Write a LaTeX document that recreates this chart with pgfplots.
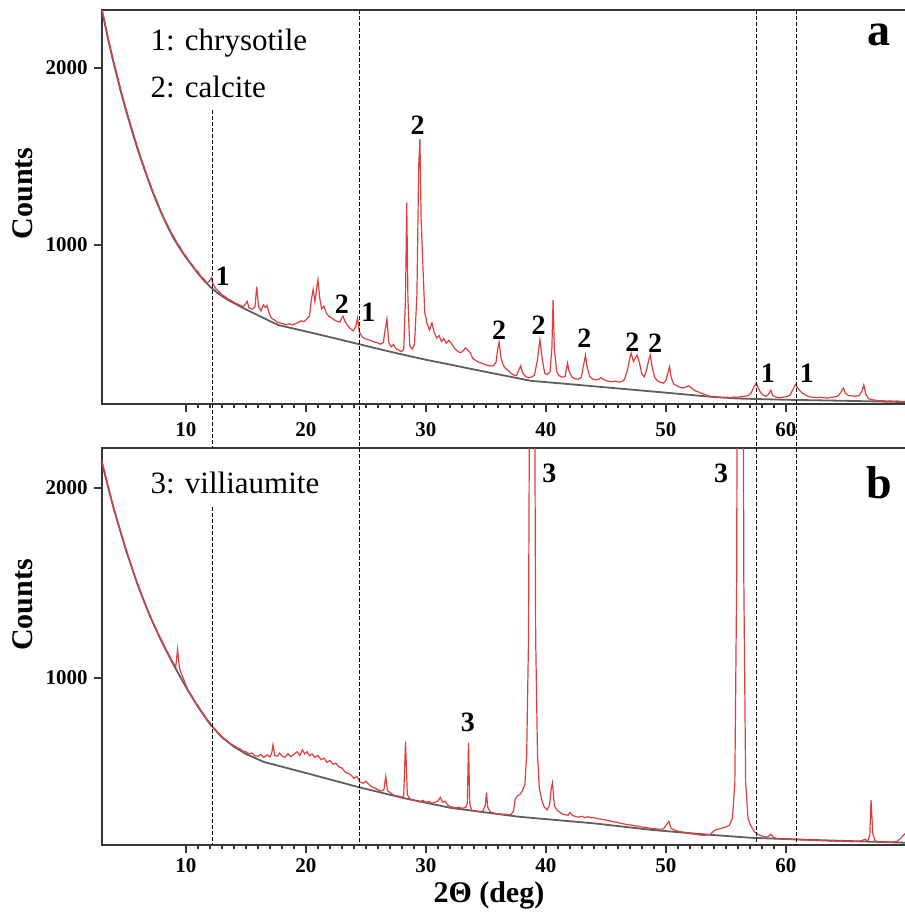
\documentclass[border=0pt]{standalone}
\usepackage{pgfplots}
\pgfplotsset{compat=1.18}
\usepackage{fontspec}
\setmainfont{Liberation Serif}

\definecolor{xrdred}{RGB}{226,62,62}
\definecolor{bggray}{RGB}{95,95,95}
\definecolor{frame}{RGB}{55,55,55}

\pgfplotsset{
  xrd/.style={
    scale only axis, width=402.2pt,
    xmin=3, xmax=70.05,
    xtick={10,20,...,60}, minor x tick num=9,
    ytick={1000,2000},
    xtick pos=left, ytick pos=left,
    tick align=outside,
    major tick length=4pt, minor tick length=2pt,
    axis line style={frame, line width=1.3pt},
    every tick/.style={frame, line width=0.7pt},
    tick label style={font=\fontsize{10.5}{12}\selectfont\bfseries},
    yticklabel style={anchor=east, inner sep=0pt, xshift=-3pt},
    /pgf/number format/assume math mode=true,
    /pgf/number format/set thousands separator={},
    label style={font=\fontsize{15}{18}\selectfont\bfseries},
    ylabel={Counts},
  },
  red trace/.style={xrdred, line width=0.6pt},
  bg trace/.style={bggray, line width=0.9pt},
}
\tikzset{
  pk/.style={font=\fontsize{14}{16}\selectfont\bfseries, inner sep=0pt},
  phase/.style={font=\fontsize{15.5}{18}\selectfont, anchor=west, inner sep=0pt},
  panel/.style={font=\fontsize{23}{26}\selectfont\bfseries, inner sep=0pt},
  refline/.style={black, line width=0.6pt, dash pattern=on 2pt off 1pt},
}

\begin{document}
\begin{tikzpicture}
\useasboundingbox (-51pt,5pt) rectangle (401.5pt,-453.5pt);

% ---------- panel a ----------
\begin{axis}[xrd, name=pa, at={(0,0)}, anchor=north west,
  height=197pt, ymin=102, ymax=2328,
  xticklabel style={anchor=north, inner sep=0pt, yshift=-5.3pt},
  ylabel style={at={(axis description cs:-0.0984,0.535)}, anchor=center}]
\addplot[bg trace] coordinates {
(3,2325) (3.5,2165) (4,2020) (4.5,1885) (5,1760) (5.5,1645) (6,1535) (6.5,1435)
(7,1340) (7.5,1252) (8,1172) (8.5,1100) (9,1035) (9.5,980) (10,930) (10.5,885)
(11,840) (11.5,800) (12,765) (12.5,736) (13,712) (13.5,690) (14,672) (14.5,654)
(15,636) (15.5,620) (16,603) (16.5,587) (17,570) (17.7,548) (20,512) (22,480)
(24.3,442) (26,414) (28,382) (30,352) (32,325) (34,297) (36,270) (38.75,233)
(42,214) (46,190) (50,166) (53.75,143) (56,133) (60,126) (65,120) (70,113)
};
\addplot[red trace] coordinates {
(3.0,2330) (3.25,2255) (3.5,2175) (3.75,2100) (4.0,2030) (4.25,1965) (4.5,1895)
(4.75,1830) (5.0,1770) (5.25,1712) (5.5,1655) (5.75,1598) (6.0,1545) (6.25,1492)
(6.5,1445) (6.75,1392) (7.0,1348) (7.25,1300) (7.5,1262) (7.75,1218) (8.0,1178)
(8.25,1140) (8.5,1110) (8.75,1072) (9.0,1045) (9.25,1012) (9.5,990) (9.75,955)
(10.0,938) (10.25,908) (10.5,890) (10.75,862) (11.0,850) (11.25,822) (11.5,808)
(11.75,785) (11.95,795) (12.1,815) (12.25,782) (12.5,752) (12.75,738) (13.0,718)
(13.25,710) (13.5,695) (13.75,688) (14.0,676) (14.25,668) (14.5,660) (14.75,652)
(14.95,665) (15.1,682) (15.25,645) (15.5,638) (15.75,650) (15.9,765) (16.05,652)
(16.25,628) (16.45,662) (16.6,648) (16.75,658) (16.9,622) (17.1,588) (17.35,578)
(17.6,565) (17.85,560) (18.1,555) (18.35,550) (18.6,555) (18.85,548) (19.1,556)
(19.35,562) (19.6,572) (19.85,568) (20.1,585) (20.3,600) (20.45,690) (20.6,750)
(20.75,680) (20.9,760) (21.0,805) (21.15,700) (21.3,640) (21.5,655) (21.7,615)
(21.9,598) (22.1,590) (22.35,578) (22.6,568) (22.85,565) (23.0,590) (23.1,598)
(23.25,570) (23.45,548) (23.7,528) (23.95,515) (24.15,540) (24.3,588) (24.45,510)
(24.7,480) (24.95,470) (25.2,466) (25.45,460) (25.7,452) (25.95,448) (26.2,440)
(26.45,450) (26.6,520) (26.75,582) (26.9,450) (27.1,425) (27.3,438) (27.5,415)
(27.7,408) (27.95,398) (28.15,410) (28.3,700) (28.4,1240) (28.5,700) (28.65,430)
(28.85,412) (29.05,440) (29.25,720) (29.4,1450) (29.5,1600) (29.6,1150) (29.75,880)
(29.9,620) (30.1,555) (30.3,520) (30.5,560) (30.7,505) (30.9,475) (31.1,488)
(31.3,455) (31.5,472) (31.7,445) (31.9,462) (32.1,446) (32.35,420) (32.6,402)
(32.85,392) (33.05,398) (33.3,420) (33.5,405) (33.7,392) (33.9,360) (34.15,348)
(34.4,338) (34.65,332) (34.9,325) (35.15,320) (35.4,316) (35.65,318) (35.85,340)
(36.0,420) (36.1,452) (36.25,365) (36.45,320) (36.65,302) (36.85,292) (37.05,278)
(37.3,266) (37.55,262) (37.75,295) (37.9,318) (38.05,280) (38.3,258) (38.55,250)
(38.8,254) (39.05,265) (39.3,355) (39.5,466) (39.7,355) (39.9,276) (40.1,268)
(40.35,284) (40.5,420) (40.6,690) (40.7,420) (40.9,285) (41.1,262) (41.35,254)
(41.6,256) (41.7,296) (41.8,333) (41.95,282) (42.2,252) (42.45,244) (42.7,242)
(42.95,252) (43.15,325) (43.3,378) (43.45,305) (43.65,258) (43.9,242) (44.15,238)
(44.4,242) (44.6,252) (44.8,240) (45.05,234) (45.3,230) (45.55,228) (45.8,232)
(46.05,226) (46.3,228) (46.55,240) (46.8,295) (47.0,365) (47.1,390) (47.3,342)
(47.6,378) (47.8,335) (48.0,272) (48.2,255) (48.4,295) (48.55,345) (48.7,378)
(48.85,315) (49.05,255) (49.3,232) (49.55,225) (49.8,220) (50.0,235) (50.15,272)
(50.3,312) (50.45,250) (50.65,215) (50.9,205) (51.15,198) (51.4,192) (51.65,198)
(51.9,205) (52.15,192) (52.4,178) (52.7,170) (53.0,162) (53.3,154) (53.6,146)
(53.9,141) (54.2,138) (54.5,141) (54.8,137) (55.1,140) (55.4,138) (55.7,142)
(56.0,140) (56.3,143) (56.6,146) (56.9,150) (57.15,170) (57.35,200) (57.55,222)
(57.7,192) (57.9,166) (58.1,152) (58.35,146) (58.55,156) (58.75,180) (58.9,152)
(59.15,141) (59.45,138) (59.75,140) (60.05,143) (60.35,152) (60.6,185) (60.8,212)
(60.95,198) (61.15,178) (61.4,162) (61.7,150) (62.0,142) (62.3,140) (62.6,138)
(62.9,140) (63.2,137) (63.5,136) (63.8,140) (64.1,142) (64.4,150) (64.6,170)
(64.8,192) (64.95,165) (65.2,150) (65.5,148) (65.8,146) (66.1,150) (66.35,175)
(66.5,210) (66.65,160) (66.9,132) (67.2,126) (67.5,123) (67.8,120) (68.1,121)
(68.4,118) (68.7,120) (69.0,117) (69.3,119) (69.6,116) (70.0,116)
};
\node[phase] at (axis description cs:0.0598,0.916) {1: chrysotile};
\node[phase] at (axis description cs:0.0598,0.805) {2: calcite};
\node[panel] at (axis description cs:0.966,0.937) {a};
\node[pk] at (axis cs:13.05,825) {1};
\node[pk] at (axis cs:23.0,667) {2};
\node[pk] at (axis cs:25.2,618) {1};
\node[pk] at (axis cs:29.3,1678) {2};
\node[pk] at (axis cs:36.1,520) {2};
\node[pk] at (axis cs:39.4,548) {2};
\node[pk] at (axis cs:43.2,474) {2};
\node[pk] at (axis cs:47.2,452) {2};
\node[pk] at (axis cs:49.1,446) {2};
\node[pk] at (axis cs:58.5,277) {1};
\node[pk] at (axis cs:61.75,277) {1};
\coordinate (l1a) at (axis cs:12.2,1763);
\coordinate (l2a) at (axis cs:24.45,2328);
\coordinate (l3a) at (axis cs:57.55,2328);
\coordinate (l4a) at (axis cs:60.9,2328);
\end{axis}

% ---------- panel b ----------
\begin{axis}[xrd, name=pb, at={(0,-219pt)}, anchor=north west,
  height=198.5pt, ymin=121, ymax=2210,
  xticklabel style={anchor=north, inner sep=0pt, yshift=-2.8pt},
  ylabel style={at={(axis description cs:-0.0984,0.605)}, anchor=center},
  xlabel={2Θ (deg)},
  xlabel style={at={(axis description cs:0.481,0)}, anchor=center, yshift=-25pt}]
\addplot[bg trace] coordinates {
(3,2130) (4,1885) (5,1672) (6,1485) (7,1325) (8,1188) (9,1065) (10,952)
(11,848) (12,757) (13,688) (14,638) (15,600) (16.5,558) (20,500) (24.3,427)
(28,370) (32,317) (37.7,270) (44,235) (48.75,201) (53,178) (57.1,159) (62,148) (70,133)
};
\addplot[red trace] coordinates {
(3.0,2140) (3.25,2078) (3.5,2012) (3.75,1948) (4.0,1892) (4.25,1835) (4.5,1782)
(4.75,1726) (5.0,1680) (5.25,1628) (5.5,1582) (5.75,1530) (6.0,1492) (6.25,1448)
(6.5,1402) (6.75,1365) (7.0,1330) (7.25,1290) (7.5,1258) (7.75,1222) (8.0,1195)
(8.25,1158) (8.5,1132) (8.75,1100) (9.0,1072) (9.15,1060) (9.3,1150) (9.45,1055)
(9.6,1025) (9.8,995) (10.0,960) (10.25,925) (10.5,905) (10.75,872) (11.0,855)
(11.25,828) (11.5,808) (11.75,782) (12.0,765) (12.25,740) (12.5,725) (12.75,705)
(13.0,692) (13.25,678) (13.5,665) (13.75,652) (14.0,645) (14.25,632) (14.5,628)
(14.75,615) (15.0,612) (15.25,600) (15.5,605) (15.75,590) (16.0,588) (16.25,598)
(16.5,582) (16.75,595) (17.0,585) (17.15,605) (17.25,648) (17.4,592) (17.6,588)
(17.8,605) (18.0,590) (18.25,582) (18.5,602) (18.75,586) (19.0,598) (19.25,612)
(19.5,592) (19.7,622) (19.9,600) (20.1,612) (20.3,590) (20.5,600) (20.75,582)
(21.0,592) (21.25,570) (21.5,578) (21.75,556) (22.0,566) (22.25,546) (22.5,552)
(22.75,532) (23.0,526) (23.25,506) (23.5,498) (23.75,490) (24.0,472) (24.25,482)
(24.5,452) (24.75,446) (25.0,456) (25.25,440) (25.5,426) (25.75,420) (26.0,412)
(26.25,405) (26.5,412) (26.65,482) (26.8,406) (27.0,398) (27.25,386) (27.5,380)
(27.75,378) (28.0,372) (28.15,382) (28.3,665) (28.45,386) (28.7,360) (29.0,356)
(29.25,352) (29.5,348) (29.75,356) (30.0,345) (30.25,350) (30.5,340) (30.75,346)
(31.0,352) (31.2,372) (31.4,346) (31.6,352) (31.8,332) (32.0,324) (32.25,320)
(32.5,316) (32.75,320) (33.0,314) (33.3,318) (33.45,340) (33.55,660) (33.65,340)
(33.8,305) (34.0,302) (34.25,298) (34.5,296) (34.75,300) (34.95,330) (35.05,398)
(35.15,320) (35.35,296) (35.6,290) (35.85,286) (36.1,284) (36.35,282) (36.6,283)
(36.85,280) (37.1,282) (37.3,300) (37.45,365) (37.65,380) (37.85,388) (38.05,408)
(38.25,440) (38.4,600) (38.55,1200) (38.7,3500) (38.85,6000) (39.0,3500) (39.15,1200)
(39.3,600) (39.45,420) (39.65,360) (39.85,322) (40.1,306) (40.3,330) (40.45,420)
(40.55,448) (40.7,330) (40.9,306) (41.1,296) (41.35,285) (41.6,280) (41.85,278)
(42.0,292) (42.25,276) (42.5,270) (42.75,268) (43.0,272) (43.25,265) (43.5,270)
(43.75,264) (44.0,266) (44.25,260) (44.5,258) (44.75,255) (45.0,252) (45.3,248)
(45.6,244) (45.9,240) (46.2,236) (46.5,232) (46.8,228) (47.1,226) (47.4,222)
(47.7,220) (48.0,216) (48.3,214) (48.6,210) (48.9,208) (49.2,206) (49.5,204)
(49.8,206) (50.05,228) (50.25,245) (50.45,208) (50.7,200) (51.0,194) (51.3,190)
(51.6,186) (51.9,183) (52.2,180) (52.5,177) (52.8,174) (53.1,172) (53.4,174)
(53.7,176) (53.95,192) (54.15,202) (54.4,205) (54.7,210) (55.0,216) (55.3,226)
(55.55,262) (55.75,450) (55.9,1500) (56.05,5000) (56.2,8000) (56.35,5000) (56.5,1500)
(56.65,450) (56.85,260) (57.1,220) (57.4,190) (57.7,176) (58.0,168) (58.3,163)
(58.55,166) (58.75,178) (58.95,163) (59.2,156) (59.5,153) (59.8,154) (60.1,151)
(60.4,153) (60.7,149) (61.0,151) (61.3,147) (61.6,149) (61.9,146) (62.2,147)
(62.5,144) (62.8,146) (63.1,143) (63.4,145) (63.7,141) (64.0,143) (64.3,140)
(64.6,142) (64.9,139) (65.2,141) (65.5,138) (65.8,141) (66.1,139) (66.4,146)
(66.6,152) (66.8,141) (67.0,172) (67.1,358) (67.25,182) (67.45,141) (67.8,138)
(68.1,136) (68.4,138) (68.7,135) (69.0,137) (69.3,141) (69.6,158) (69.8,172) (70.0,185)
};
\node[phase] at (axis description cs:0.0598,0.912) {3: villiaumite};
\node[panel] at (axis description cs:0.966,0.912) {b};
\node[pk] at (axis cs:33.5,764) {3};
\node[pk] at (axis cs:40.3,2079) {3};
\node[pk] at (axis cs:54.6,2079) {3};
\coordinate (l1b) at (axis cs:12.2,2210);
\coordinate (l1c) at (axis cs:12.2,1900);
\coordinate (l1d) at (axis cs:12.2,121);
\coordinate (l2d) at (axis cs:24.45,121);
\coordinate (l3d) at (axis cs:57.55,121);
\coordinate (l4d) at (axis cs:60.9,121);
\end{axis}

% reference lines running through both panels
\draw[refline] (l1a) -- (l1b);
\draw[refline] (l1c) -- (l1d);
\draw[refline] (l2a) -- (l2d);
\draw[refline] (l3a) -- (l3d);
\draw[refline] (l4a) -- (l4d);
\end{tikzpicture}
\end{document}
